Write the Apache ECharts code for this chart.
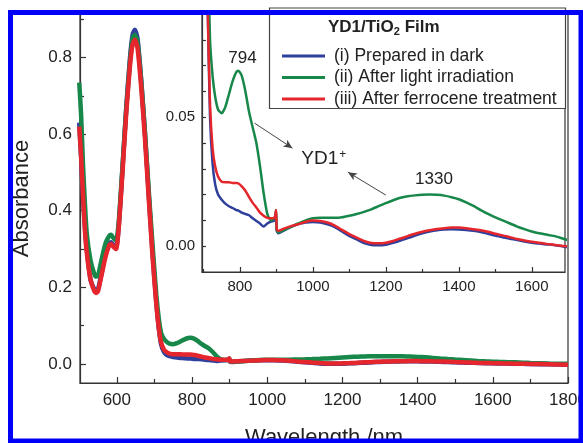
<!DOCTYPE html>
<html>
<head>
<meta charset="utf-8">
<script src="https://cdn.jsdelivr.net/npm/echarts@6/dist/echarts.min.js"></script>
<style>
  html, body { margin: 0; padding: 0; background: #fff; }
  #main { width: 583px; height: 443px; }
</style>
</head>
<body>
<div id="main"></div>
<script>
// wavelength (nm) and absorbance
var wavelength = [
  500, 505, 510, 515, 520, 530, 540, 545, 550, 560,
  570, 580, 585, 590, 598, 605, 615, 625, 635, 642,
  648, 655, 665, 675, 685, 695, 705, 712, 718, 725,
  732, 740, 750, 760, 770, 780, 790, 796, 805, 815,
  825, 835, 845, 855, 865, 875, 885, 895, 899, 901,
  905, 920, 940, 960, 980, 1000, 1020, 1040, 1060, 1080,
  1100, 1120, 1140, 1160, 1180, 1200, 1220, 1240, 1260, 1280,
  1300, 1320, 1340, 1360, 1380, 1400, 1420, 1440, 1460, 1480,
  1500, 1520, 1540, 1560, 1580, 1600, 1620, 1640, 1660, 1680,
  1700, 1750, 1800
];
var prepared = [
  0.63, 0.54, 0.44, 0.36, 0.30, 0.22, 0.195, 0.19, 0.195, 0.24,
  0.29, 0.315, 0.318, 0.31, 0.305, 0.36, 0.51, 0.67, 0.80, 0.86,
  0.873, 0.85, 0.74, 0.60, 0.44, 0.29, 0.16, 0.09, 0.05, 0.032,
  0.024, 0.02, 0.018, 0.0165, 0.0155, 0.0148, 0.014, 0.0138, 0.013, 0.0125,
  0.012, 0.0108, 0.0098, 0.0088, 0.0076, 0.0088, 0.0095, 0.010, 0.011, 0.006,
  0.005, 0.006, 0.0075, 0.0086, 0.0092, 0.0094, 0.0092, 0.0085, 0.0074, 0.0057,
  0.004, 0.0026, 0.0012, 0.0005, 0.0004, 0.0006, 0.0013, 0.0022, 0.0032, 0.0041,
  0.005, 0.0057, 0.0062, 0.0065, 0.0066, 0.0065, 0.0063, 0.006, 0.0055, 0.0048,
  0.0041, 0.0035, 0.0029, 0.0024, 0.0018, 0.0013, 0.001, 0.0007, 0.0005, 0.0001,
  -0.0004, -0.001, -0.002
];
var irradiated = [
  0.735, 0.65, 0.52, 0.42, 0.34, 0.27, 0.235, 0.228, 0.23, 0.275,
  0.315, 0.335, 0.337, 0.33, 0.322, 0.37, 0.515, 0.665, 0.79, 0.85,
  0.86, 0.84, 0.735, 0.60, 0.45, 0.31, 0.18, 0.115, 0.08, 0.066,
  0.058, 0.053, 0.0515, 0.054, 0.059, 0.064, 0.0675, 0.068, 0.066, 0.06,
  0.052, 0.046, 0.04, 0.031, 0.0205, 0.0125, 0.010, 0.011, 0.014, 0.006,
  0.0054, 0.0062, 0.0075, 0.0088, 0.010, 0.0108, 0.011, 0.011, 0.011, 0.0112,
  0.0118, 0.0125, 0.0133, 0.0143, 0.0155, 0.0167, 0.0178, 0.0188, 0.0194, 0.0197,
  0.0199, 0.0200, 0.0199, 0.0196, 0.019, 0.0182, 0.0170, 0.0156, 0.014, 0.0125,
  0.0112, 0.010, 0.0088, 0.0076, 0.0066, 0.0057, 0.005, 0.0045, 0.004, 0.0032,
  0.0023, 0.001, 0.0
];
var ferrocene = [
  0.62, 0.54, 0.44, 0.35, 0.29, 0.22, 0.19, 0.185, 0.19, 0.235,
  0.28, 0.31, 0.313, 0.307, 0.30, 0.355, 0.50, 0.655, 0.78, 0.835,
  0.847, 0.825, 0.72, 0.585, 0.43, 0.28, 0.155, 0.09, 0.055, 0.038,
  0.031, 0.027, 0.025, 0.0248, 0.0248, 0.0245, 0.0245, 0.0243, 0.0232, 0.0215,
  0.019, 0.0168, 0.015, 0.013, 0.0118, 0.011, 0.0108, 0.011, 0.014, 0.0065,
  0.006, 0.0068, 0.0078, 0.0085, 0.0095, 0.010, 0.0098, 0.0092, 0.008, 0.0063,
  0.0047, 0.0033, 0.002, 0.0012, 0.0011, 0.0013, 0.002, 0.003, 0.0039, 0.0048,
  0.0056, 0.0062, 0.0067, 0.007, 0.0072, 0.0072, 0.007, 0.0066, 0.0062, 0.0056,
  0.0048, 0.0042, 0.0035, 0.0028, 0.0022, 0.0017, 0.0013, 0.0009, 0.0006, 0.0002,
  -0.0001, -0.001, -0.002
];
var names = ['(i) Prepared in dark', '(ii) After light irradiation', '(iii) After ferrocene treatment'];
var colors = ['#2f3f9c', '#17874a', '#e5262c'];

// tick positions
var mainXMajor = [600, 800, 1000, 1200, 1400, 1600, 1800];
var mainXMinor = [700, 900, 1100, 1300, 1500, 1700];
var mainYMajor = [0, 0.2, 0.4, 0.6, 0.8];
var mainYMinor = [0.1, 0.3, 0.5, 0.7, 0.9];
var insetXMajor = [800, 1000, 1200, 1400, 1600];
var insetXMinor = [700, 900, 1100, 1300, 1500];
var insetYTicks = [0, 0.01, 0.02, 0.03, 0.04, 0.05, 0.06, 0.07, 0.08];
var insetYLabels = [0, 0.05];

var FONT = 'Liberation Sans';
var TXT = '#222';
var AXIS = { color: '#333', width: 1.2 };

function pairs(ys) {
  return wavelength.map(function (x, i) { return [x, ys[i]]; });
}
var allData = [prepared, irradiated, ferrocene];

var myChart = echarts.init(document.getElementById('main'));

// extra axis that only draws the short minor ticks
function tickAxis(grid, vals, len, extra) {
  var a = {
    type: 'value', gridIndex: grid,
    axisLine: { show: false, onZero: false },
    axisTick: { show: true, inside: true, length: len, customValues: vals, lineStyle: AXIS },
    axisLabel: { show: false },
    splitLine: { show: false }
  };
  return Object.assign(a, extra);
}

var series = [];
allData.forEach(function (d, i) {
  series.push({
    name: names[i], type: 'line', xAxisIndex: 0, yAxisIndex: 0,
    data: pairs(d), showSymbol: false, smooth: 0.2, z: 2,
    lineStyle: { color: colors[i], width: 4.5 }, itemStyle: { color: colors[i] }
  });
});
allData.forEach(function (d, i) {
  var s = {
    name: names[i], type: 'line', xAxisIndex: 2, yAxisIndex: 2,
    data: pairs(d), showSymbol: false, smooth: 0.2, z: 11,
    lineStyle: { color: colors[i], width: 2.5 }, itemStyle: { color: colors[i] }
  };
  if (i === 1) {
    s.markLine = {
      silent: true, z: 13, symbol: ['none', 'arrow'], symbolSize: [6, 9],
      lineStyle: { color: '#444', width: 1, type: 'solid' },
      label: { show: false },
      data: [
        [{ coord: [840, 0.0477] }, { coord: [944, 0.038] }],
        [{ coord: [1200, 0.0198] }, { coord: [1096, 0.0287] }]
      ]
    };
    s.markPoint = {
      silent: true, z: 13, symbol: 'rect', symbolSize: 1,
      itemStyle: { color: 'rgba(0,0,0,0)' },
      label: { show: true, position: 'inside', color: TXT, fontFamily: FONT, fontSize: 17 },
      data: [
        { coord: [807, 0.073], value: '794' },
        { coord: [1332, 0.026], value: '1330' },
        { coord: [1030, 0.034], value: 'YD1',
          label: {
            formatter: '{a|YD1}{s|+}',
            rich: {
              a: { fontFamily: FONT, fontSize: 19, color: TXT },
              s: { fontFamily: FONT, fontSize: 12, color: TXT, verticalAlign: 'top', padding: [0, 0, 8, 1] }
            }
          } }
      ]
    };
  }
  series.push(s);
});

myChart.setOption({
  backgroundColor: '#fff',
  animation: false,
  textStyle: { fontFamily: FONT },
  grid: [
    { left: 80, right: 15, top: 14, bottom: 60, outerBoundsMode: 'none', show: true,
      borderColor: '#333', borderWidth: 1.2, backgroundColor: 'transparent', z: 0 },
    { left: 202, right: 18, top: 14, bottom: 171, outerBoundsMode: 'none', show: true,
      borderColor: '#333', borderWidth: 1.2, backgroundColor: '#fff', z: 10 }
  ],
  xAxis: [
    {
      type: 'value', gridIndex: 0, min: 502, max: 1800, position: 'bottom',
      name: 'Wavelength /nm', nameLocation: 'middle', nameGap: 44,
      nameTextStyle: { fontSize: 22, color: TXT, fontFamily: FONT, verticalAlign: 'top' },
      axisLine: { show: true, onZero: false, lineStyle: AXIS },
      axisTick: { show: true, inside: true, length: 6, customValues: mainXMajor, lineStyle: AXIS },
      axisLabel: { customValues: mainXMajor, fontSize: 17, color: TXT, margin: 9, fontFamily: FONT,
        formatter: function (v) { return String(v); } },
      splitLine: { show: false }
    },
    tickAxis(0, mainXMinor, 4, { min: 502, max: 1800, position: 'bottom' }),
    {
      type: 'value', gridIndex: 1, min: 696, max: 1691, position: 'bottom', z: 12,
      axisLine: { show: true, onZero: false, lineStyle: AXIS },
      axisTick: { show: true, inside: true, length: 5, customValues: insetXMajor, lineStyle: AXIS },
      axisLabel: { customValues: insetXMajor, fontSize: 15, color: TXT, margin: 7, fontFamily: FONT,
        formatter: function (v) { return String(v); } },
      splitLine: { show: false }
    },
    tickAxis(1, insetXMinor, 3, { min: 696, max: 1691, position: 'bottom', z: 12 })
  ],
  yAxis: [
    {
      type: 'value', gridIndex: 0, min: -0.05, max: 0.914, position: 'left',
      name: 'Absorbance', nameLocation: 'middle', nameGap: 47,
      nameTextStyle: { fontSize: 22, color: TXT, fontFamily: FONT },
      axisLine: { show: true, onZero: false, lineStyle: AXIS },
      axisTick: { show: true, inside: true, length: 6, customValues: mainYMajor, lineStyle: AXIS },
      axisLabel: { customValues: mainYMajor, fontSize: 17, color: TXT, margin: 8, fontFamily: FONT,
        formatter: function (v) { return v.toFixed(1); } },
      splitLine: { show: false }
    },
    tickAxis(0, mainYMinor, 4, { min: -0.05, max: 0.914, position: 'left' }),
    {
      type: 'value', gridIndex: 1, min: -0.01, max: 0.09, position: 'left', z: 12,
      axisLine: { show: true, onZero: false, lineStyle: AXIS },
      axisTick: { show: true, inside: true, length: 4, customValues: insetYTicks, lineStyle: AXIS },
      axisLabel: { customValues: insetYLabels, fontSize: 15, color: TXT, margin: 7, fontFamily: FONT,
        formatter: function (v) { return v.toFixed(2); } },
      splitLine: { show: false }
    }
  ],
  legend: {
    data: names, orient: 'vertical', left: 277, top: 42, z: 14,
    icon: 'rect', itemWidth: 43, itemHeight: 3, itemGap: 3.5, selectedMode: false,
    textStyle: { fontSize: 17.5, color: TXT, fontFamily: FONT, lineHeight: 18, padding: [0, 0, 0, 4] }
  },
  graphic: [
    { type: 'rect', z: 13, shape: { x: 269.5, y: 8, width: 296, height: 100.5 },
      style: { fill: '#fff', stroke: '#444', lineWidth: 1.2 } },
    { type: 'text', z: 14, left: 328, top: 19,
      style: {
        text: '{b|YD1/TiO}{s|2}{b| Film}',
        rich: {
          b: { fontFamily: FONT, fontSize: 17, fontWeight: 'bold', fill: TXT },
          s: { fontFamily: FONT, fontSize: 11, fontWeight: 'bold', fill: TXT, verticalAlign: 'bottom', padding: [8, 0, 0, 0] }
        }
      } },
    { type: 'rect', z: 50, silent: true, shape: { x: 10.5, y: 12.5, width: 570.5, height: 428.5 },
      style: { fill: 'none', stroke: '#0000fa', lineWidth: 5 } }
  ],
  series: series
});
</script>
</body>
</html>
